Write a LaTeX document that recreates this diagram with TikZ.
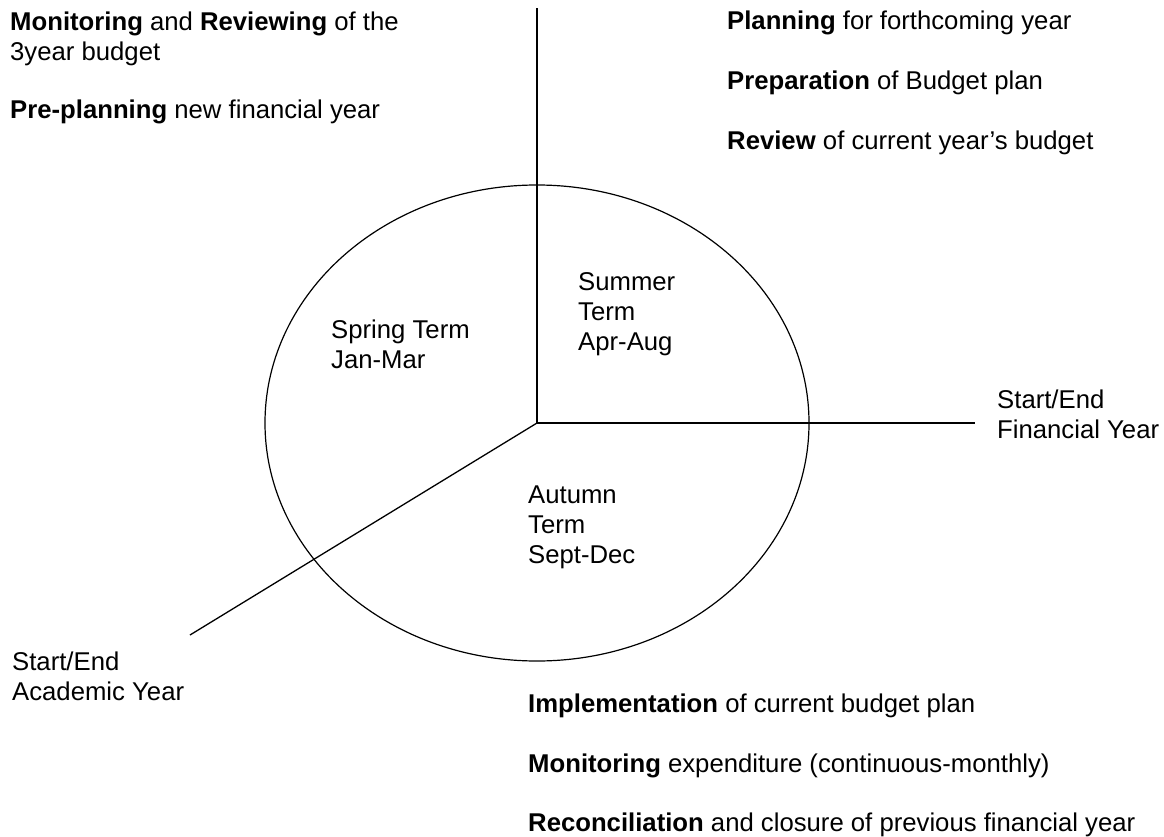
\documentclass[tikz,border=0pt]{standalone}
\usepackage{fontspec}
\setmainfont{Liberation Sans}
\newcommand\stack[1]{\begin{tabular}[t]{@{}l@{}}#1\end{tabular}}
\begin{document}
\begin{tikzpicture}[x=1pt,y=-1pt,
  label/.style={anchor=base west, inner sep=0pt, font=\fontsize{25.7}{30}\selectfont},
  axis/.style={line width=1.3pt},
  ring/.style={line width=1.2pt}]
\useasboundingbox (0,0) rectangle (1164,837);

% the three spokes and the year cycle
\coordinate (hub) at (537,423);
\coordinate (topend) at (537,8);
\coordinate (fyend) at (975,423);
\coordinate (ayend) at (190,635);
\draw[ring] (hub) ellipse [x radius=272pt, y radius=238pt];
\draw[axis] (hub) -- (topend);
\draw[axis] (hub) -- (fyend);
\draw[axis] (hub) -- (ayend);

% term labels
\node[label] (spring) at (331,338) {\stack{Spring Term\\Jan-Mar}};
\node[label] (summer) at (578,290) {\stack{Summer\\Term\\Apr-Aug}};
\node[label] (autumn) at (528,503) {\stack{Autumn\\Term\\Sept-Dec}};

% year boundaries
\node[label] (fy) at (997,408) {\stack{Start/End\\Financial Year}};
\node[label] (ay) at (12,670) {\stack{Start/End\\Academic Year}};

% activities per term
\node[label] (spring1) at (10,31) {\stack{\textbf{Monitoring} and \textbf{Reviewing} of the\\3year budget}};
\node[label] (spring2) at (10,119) {\textbf{Pre-planning} new financial year};

\node[label] (summer1) at (727,30) {\textbf{Planning} for forthcoming year};
\node[label] (summer2) at (727,90) {\textbf{Preparation} of Budget plan};
\node[label] (summer3) at (727,150) {\textbf{Review} of current year’s budget};

\node[label] (autumn1) at (528,712) {\textbf{Implementation} of current budget plan};
\node[label] (autumn2) at (528,772) {\textbf{Monitoring} expenditure (continuous-monthly)};
\node[label] (autumn3) at (528,831) {\textbf{Reconciliation} and closure of previous financial year};
\end{tikzpicture}
\end{document}
